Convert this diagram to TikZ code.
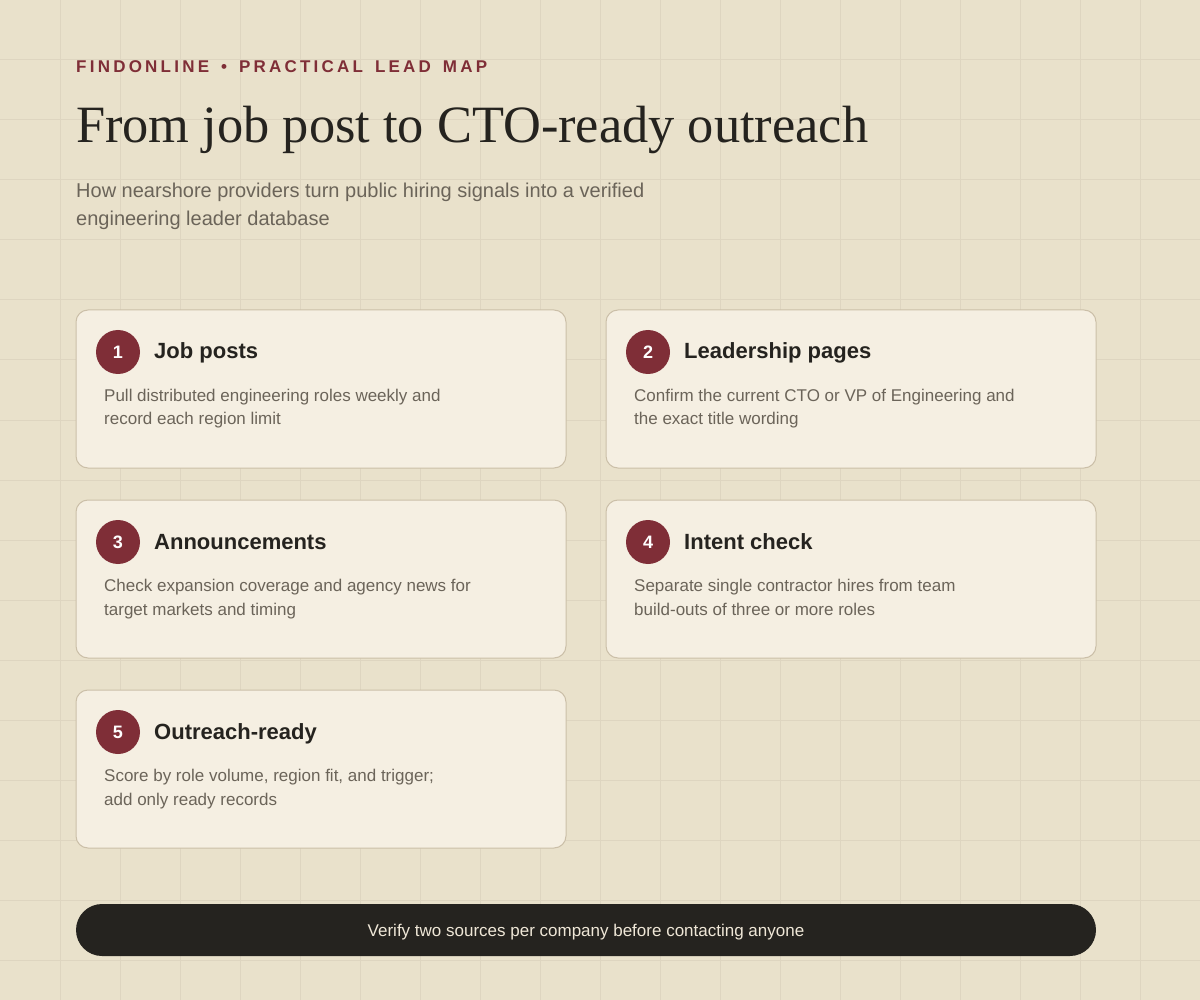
\documentclass[tikz,border=0pt]{standalone}
\usepackage{fontspec}
\usepackage{tikz}
\setmainfont{Liberation Sans}
\newfontfamily\headfont{Liberation Serif}

\definecolor{paper}{HTML}{E9E1CB}
\definecolor{gridcol}{HTML}{DED5C0}
\definecolor{cardfill}{HTML}{F5EFE2}
\definecolor{cardline}{HTML}{CBBFA8}
\definecolor{wine}{HTML}{7F2E37}
\definecolor{ink}{HTML}{25231F}
\definecolor{muted}{HTML}{6B6459}
\definecolor{cream}{HTML}{EFE7D7}

\tikzset{
  card/.style={draw=cardline, fill=cardfill, line width=1pt, rounded corners=12pt,
    minimum width=490pt, minimum height=158pt, inner sep=0pt},
  badge/.style={circle, fill=wine, minimum size=44pt, inner sep=0pt, text=white,
    font=\fontsize{18}{18}\selectfont\bfseries},
  cardtitle/.style={anchor=base west, inner sep=0pt, text=ink,
    font=\fontsize{22}{24}\selectfont\bfseries},
  cardtext/.style={anchor=base west, inner sep=0pt, text=muted,
    font=\fontsize{17}{24}\selectfont},
}

\begin{document}
\begin{tikzpicture}[x=1pt,y=-1pt]
\useasboundingbox (0,0) rectangle (1200,1000);
\fill[paper] (0,0) rectangle (1200,1000);

% background grid
\foreach \gx in {60,120,...,1140} \draw[gridcol, line width=1pt] (\gx,0) -- (\gx,1000);
\foreach \gy in {60,120,...,960} \draw[gridcol, line width=1pt] (0,\gy) -- (1200,\gy);

% heading
\node[anchor=base west, inner sep=0pt, text=wine] (kicker) at (76,72.5)
  {\fontsize{17}{17}\selectfont\bfseries\addfontfeature{LetterSpace=19}FINDONLINE \hspace{4pt}• \hspace{4pt}PRACTICAL \hspace{4pt}LEAD \hspace{4pt}MAP};
\node[anchor=base west, inner sep=0pt, text=ink] (title) at (76,143)
  {\headfont\fontsize{52.4}{52}\selectfont From job post to CTO-ready outreach};
\node[anchor=base west, inner sep=0pt, text=muted] (subtitle) at (76,198)
  {\parbox[t]{700pt}{\fontsize{20}{28}\selectfont How nearshore providers turn public hiring signals into a verified\\engineering leader database}};

% step cards
\node[card] (c1) at (321,389) {};
\node[badge] (b1) at (118,352) {1};
\node[cardtitle] (t1) at (154,359) {Job posts};
\node[cardtext] (d1) at (104,401) {\parbox[t]{440pt}{Pull distributed engineering roles weekly and\\record each region limit}};

\node[card] (c2) at (851,389) {};
\node[badge] (b2) at (648,352) {2};
\node[cardtitle] (t2) at (684,359) {Leadership pages};
\node[cardtext] (d2) at (634,401) {\parbox[t]{440pt}{Confirm the current CTO or VP of Engineering and\\the exact title wording}};

\node[card] (c3) at (321,579) {};
\node[badge] (b3) at (118,542) {3};
\node[cardtitle] (t3) at (154,549) {Announcements};
\node[cardtext] (d3) at (104,591) {\parbox[t]{440pt}{Check expansion coverage and agency news for\\target markets and timing}};

\node[card] (c4) at (851,579) {};
\node[badge] (b4) at (648,542) {4};
\node[cardtitle] (t4) at (684,549) {Intent check};
\node[cardtext] (d4) at (634,591) {\parbox[t]{440pt}{Separate single contractor hires from team\\build-outs of three or more roles}};

\node[card] (c5) at (321,769) {};
\node[badge] (b5) at (118,732) {5};
\node[cardtitle] (t5) at (154,739) {Outreach-ready};
\node[cardtext] (d5) at (104,781) {\parbox[t]{440pt}{Score by role volume, region fit, and trigger;\\add only ready records}};

% footer bar
\node[fill=ink, rounded corners=26pt, minimum width=1020pt, minimum height=52pt, inner sep=0pt,
  text height=12.2pt, text depth=0pt, text=cream, font=\fontsize{17}{17}\selectfont] (note) at (586,930)
  {Verify two sources per company before contacting anyone};
\end{tikzpicture}
\end{document}
